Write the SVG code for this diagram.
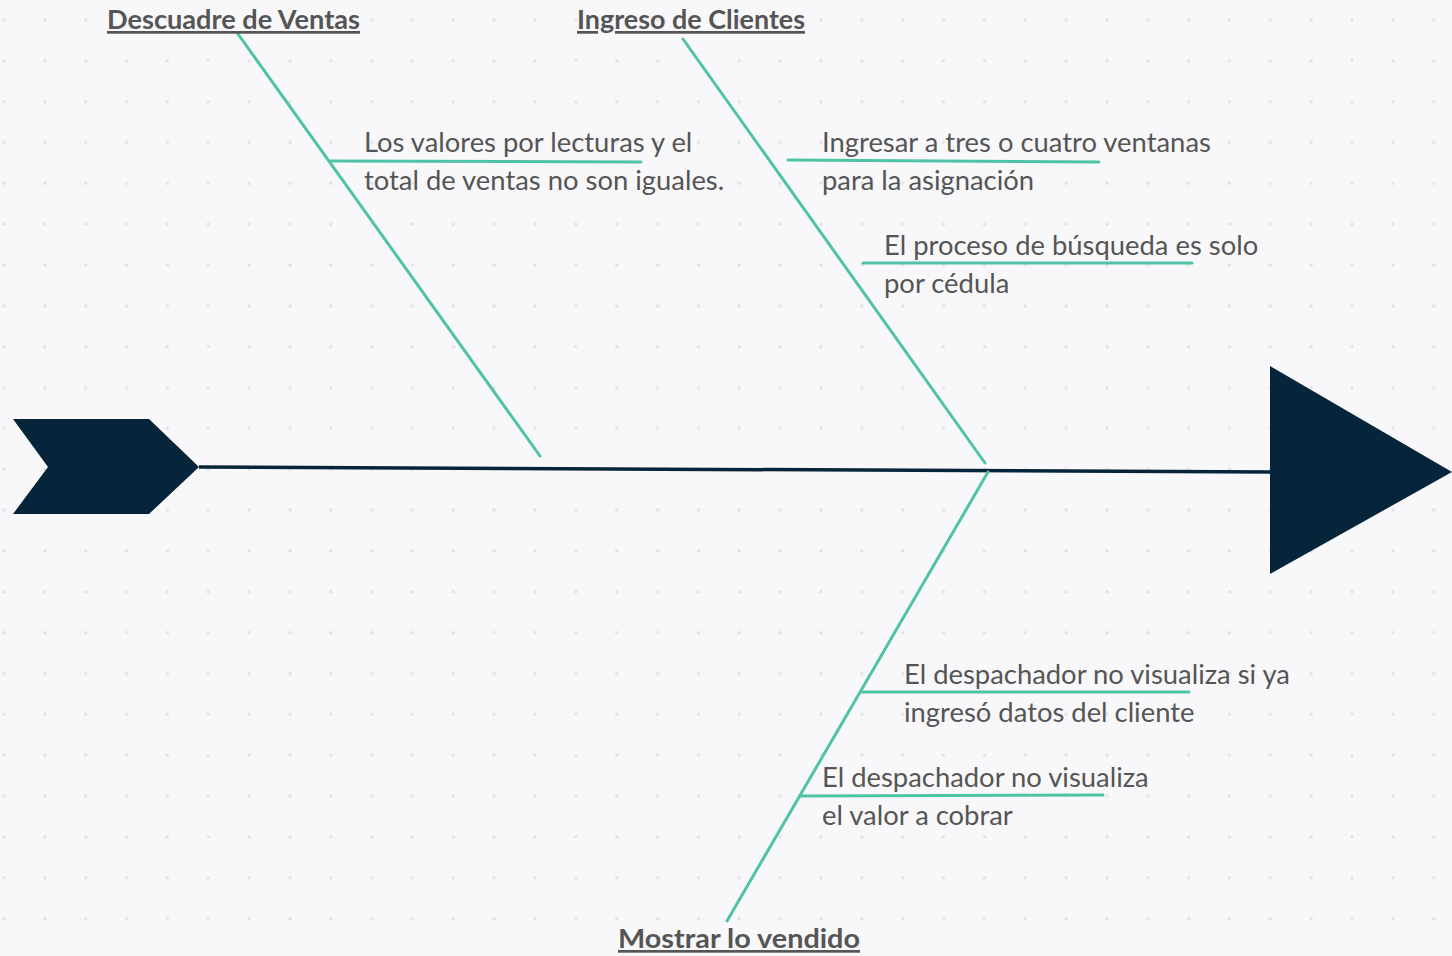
<svg xmlns="http://www.w3.org/2000/svg" width="1452" height="956" viewBox="0 0 1452 956">
<style>
.bg{fill:#f8f8fa}
.bone{stroke:#4fc3a6;stroke-width:3;fill:none;stroke-linecap:round}
.spine{stroke:#06243a;stroke-width:3.5;fill:none}
.head{fill:#06243a}
.t{font-family:Lato,"Open Sans","Liberation Sans",sans-serif;font-size:27.4px;fill:#555555}
.h{font-family:Lato,"Open Sans","Liberation Sans",sans-serif;font-size:27px;font-weight:bold;fill:#555555;text-decoration:underline}
</style>
<defs>
<pattern id="dots" patternUnits="userSpaceOnUse" x="0" y="0" width="40.85" height="40.85">
<circle cx="4" cy="20" r="1.7" fill="#e2e2e6"/>
</pattern>
</defs>
<rect class="bg" x="0" y="0" width="1452" height="956"/>
<rect x="0" y="0" width="1452" height="956" fill="url(#dots)"/>
<g id="connectors">
<line class="spine" x1="199" y1="467" x2="1272" y2="472"/>
<line class="bone" x1="238" y1="34" x2="540" y2="456"/>
<line class="bone" x1="331" y1="161" x2="641" y2="162"/>
<line class="bone" x1="683" y1="39" x2="985" y2="463"/>
<line class="bone" x1="788" y1="160" x2="1099" y2="162"/>
<line class="bone" x1="863" y1="263" x2="1192" y2="263"/>
<line class="bone" x1="988" y1="472" x2="727" y2="921"/>
<line class="bone" x1="861" y1="692" x2="1189" y2="692"/>
<line class="bone" x1="800" y1="796" x2="1103" y2="795"/>
</g>
<g id="tail"><polygon class="head" points="13,419 149,419 199,467 149,514 13,514 48,467"/></g>
<g id="head"><polygon class="head" points="1270,366 1452,472 1270,574"/></g>
<g id="cat-descuadre"><text class="h" x="107" y="29" textLength="253" lengthAdjust="spacingAndGlyphs">Descuadre de Ventas</text></g>
<g id="cat-ingreso"><text class="h" x="577" y="29" textLength="228" lengthAdjust="spacingAndGlyphs">Ingreso de Clientes</text></g>
<g id="cat-mostrar"><text class="h" x="618" y="948" textLength="242" lengthAdjust="spacingAndGlyphs">Mostrar lo vendido</text></g>
<g id="cause-1"><text class="t" x="364" y="152">Los valores por lecturas y el</text><text class="t" x="364" y="190">total de ventas no son iguales.</text></g>
<g id="cause-2"><text class="t" x="822" y="152">Ingresar a tres o cuatro ventanas</text><text class="t" x="822" y="190">para la asignación</text></g>
<g id="cause-3"><text class="t" x="884" y="255">El proceso de búsqueda es solo</text><text class="t" x="884" y="293">por cédula</text></g>
<g id="cause-4"><text class="t" x="904" y="684">El despachador no visualiza si ya</text><text class="t" x="904" y="722">ingresó datos del cliente</text></g>
<g id="cause-5"><text class="t" x="822" y="787">El despachador no visualiza</text><text class="t" x="822" y="825">el valor a cobrar</text></g>
</svg>
